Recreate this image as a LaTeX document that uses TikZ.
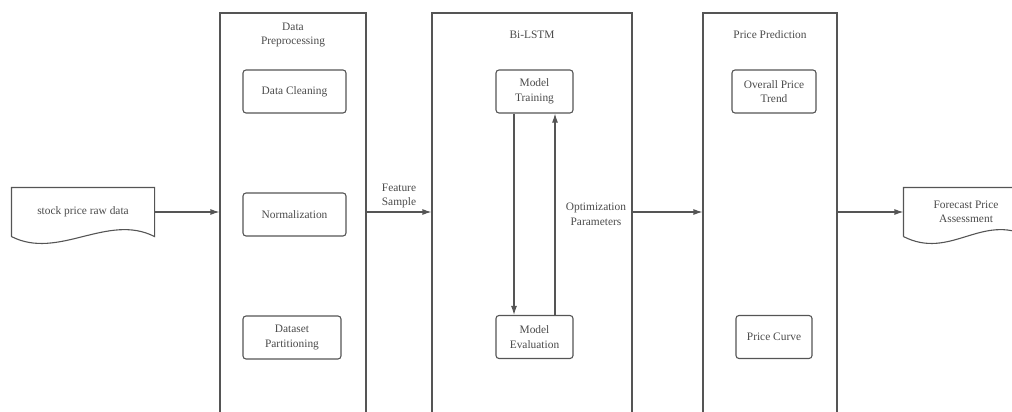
\documentclass[tikz,border=0pt]{standalone}
\usepackage{fontspec}
\setmainfont{Liberation Serif}
\usetikzlibrary{arrows.meta}
\usetikzlibrary{calc}
\usetikzlibrary{positioning}
\definecolor{ink}{HTML}{4A4A4A}
\definecolor{edge}{HTML}{555555}

\begin{document}
\begin{tikzpicture}[x=1pt, y=-1pt, line width=1.1pt, color=edge, text=ink,
    font=\fontsize{11.4}{14.5}\selectfont, >={Latex[length=9pt,width=6pt]},
    panel/.style={draw, minimum width=#1, minimum height=430, inner sep=0pt},
    stepbox/.style={draw, rounded corners=3pt, minimum width=#1, minimum height=43,
        align=center, inner sep=2pt},
    doc/.style={minimum width=#1, minimum height=48, align=center, inner sep=0pt},
    ttl/.style={align=center}]
    \useasboundingbox (0,0) rectangle (1012,412);
    \clip (0,0) rectangle (1012,412);
    % panels, open at the bottom of the page
    \foreach \pn/\px/\pw/\pt in {pp/293/146/{Data\\Preprocessing},lstm/532/200/{Bi-LSTM},pred/770/134/{Price Prediction}} {
        \node[panel=\pw] (\pn) at (\px,228) {};
        \node[ttl] (\pn-t) at (\px,35) {\pt};
    }
    % inner steps
    \foreach \bn/\bx/\by/\bw/\bt in {clean/294.5/91.5/103/{Data Cleaning},
        norm/294.5/214.5/103/{Normalization},
        part/292/337.5/98/{Dataset\\Partitioning},
        train/534.5/91.5/77/{Model\\Training},
        eval/534.5/337/77/{Model\\Evaluation},
        trend/774/91.5/84/{Overall Price\\Trend},
        curve/774/337/76/{Price Curve}} {
        \node[stepbox=\bw] (\bn) at (\bx,\by) {\bt};
    }
    % documents
    \foreach \dn/\dx/\dw/\dt in {raw/83/142/{stock price raw data},out/966/124/{Forecast Price\\Assessment}} {
        \node[doc=\dw] (\dn) at (\dx,212) {\dt};
        \draw (\dn.south west) -- (\dn.north west) -- (\dn.north east) -- (\dn.south east)
            .. controls +(-47,-24) and +(47,24) .. (\dn.south west);
    }
    \draw[->] (raw.east) -- (raw.east -| pp.west);
    \draw[->] (pp.east |- raw.east) -- (lstm.west |- raw.east)
        node[midway, above, ttl] {Feature\\Sample};
    \draw[->] (lstm.east |- raw.east) -- (pred.west |- raw.east);
    \draw[->] (pred.east |- out.west) -- (out.west);
    \draw[->] ([xshift=-20.5]train.south) -- ([xshift=-20.5]eval.north);
    \draw[->] ([xshift=20.5]eval.north) -- ([xshift=20.5]train.south)
        node[midway, right=7pt, ttl] {Optimization\\Parameters};
\end{tikzpicture}
\end{document}
